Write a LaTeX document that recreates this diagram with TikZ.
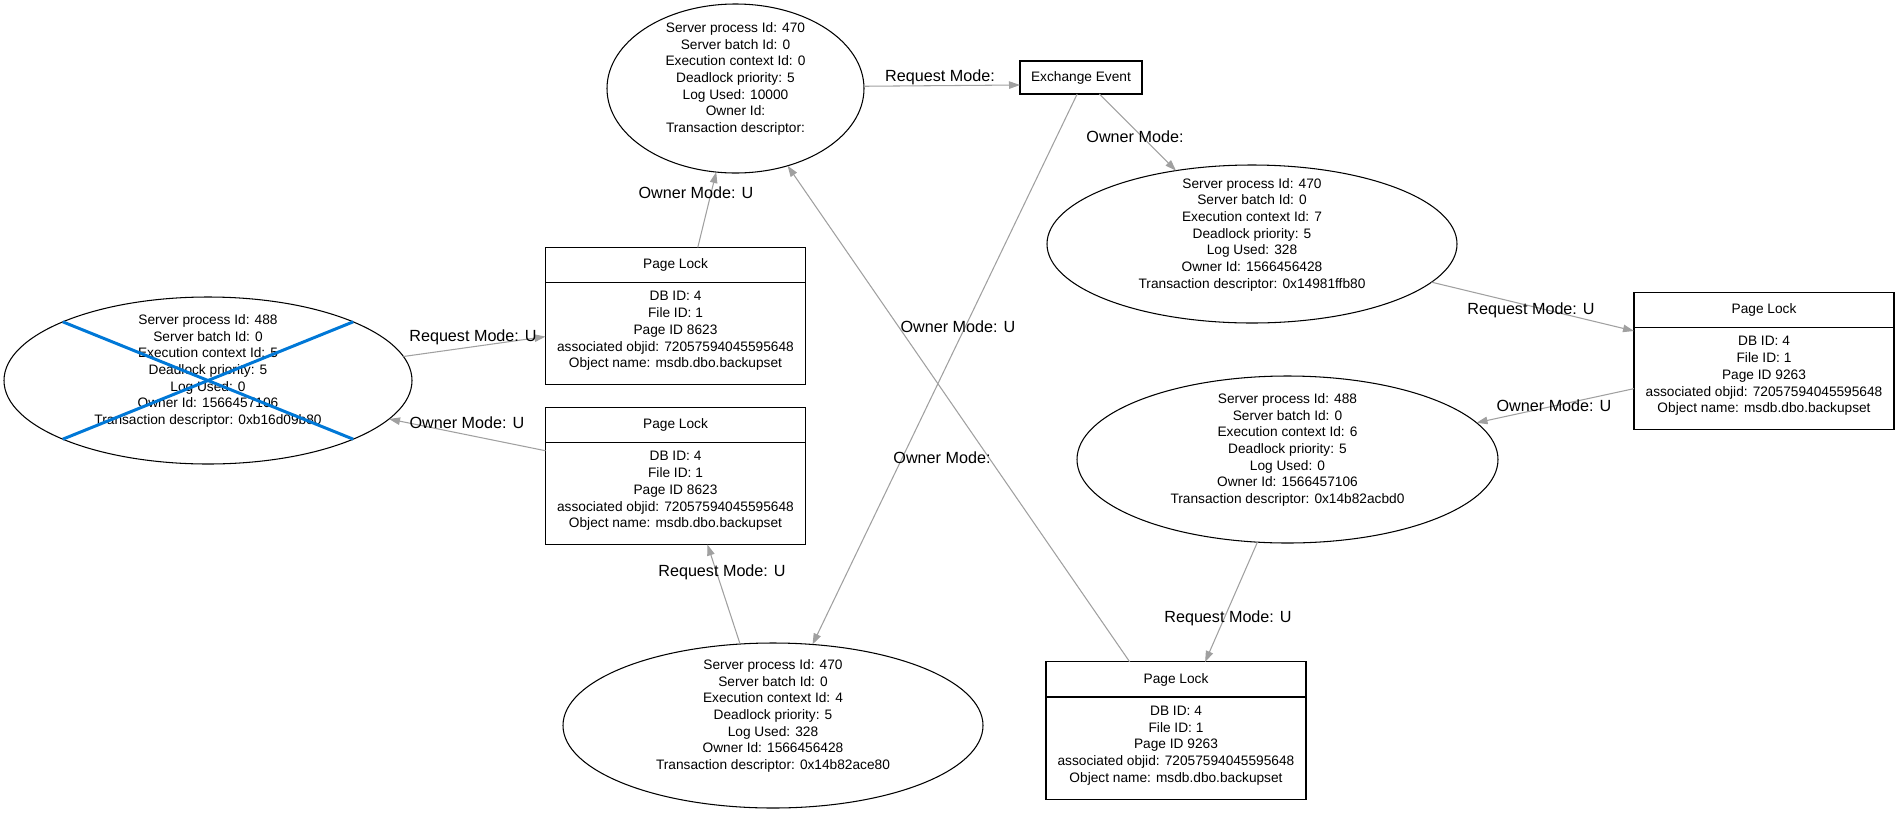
\documentclass[tikz,border=0pt]{standalone}
\usepackage{fontspec}
\setmainfont{Liberation Sans}
\usetikzlibrary{shapes.geometric,shapes.multipart,arrows.meta}

\definecolor{edgegray}{RGB}{160,160,160}
\definecolor{victimblue}{RGB}{0,120,215}
\newcommand{\procfont}{\fontsize{7.8pt}{9.49pt}\selectfont}
\newcommand{\modefont}{\fontsize{9.2pt}{11pt}\selectfont}
\newcommand{\lockhead}{\parbox[c][0.68cm][c]{5.2cm}{\centering Page Lock}}
\newcommand{\lockbody}[1]{\parbox[c][2.02cm][c]{5.2cm}{\centering DB ID: 4\\ File ID: 1\\ Page ID #1\\ associated objid: 72057594045595648\\ Object name: msdb.dbo.backupset\\[0.1cm]}}

\begin{document}
\begin{tikzpicture}[
  process/.style={draw, ellipse, line width=0.6pt, inner xsep=0pt, inner ysep=-0.3cm, outer sep=0pt, align=center, font=\procfont},
  lockbox/.style={draw, rectangle split, rectangle split parts=2, line width=0.6pt, inner sep=0pt, outer sep=0pt, font=\procfont},
  eventbox/.style={draw, line width=0.6pt, minimum width=2.44cm, minimum height=0.66cm, inner sep=0pt, outer sep=0pt, font=\procfont},
  wait/.style={draw=edgegray, line width=0.6pt, -{Triangle[length=0.22cm, width=0.15cm]}},
  mode/.style={font=\modefont, inner sep=0pt},
  victim/.style={draw=victimblue, line width=1.7pt}
]
  \useasboundingbox (0,0) rectangle (37.98,-16.36);

  % Processes
  \node[process, minimum width=5.14cm, minimum height=3.38cm] (proc0) at (14.71,-1.77) {Server process Id: 470\\ Server batch Id: 0\\ Execution context Id: 0\\ Deadlock priority: 5\\ Log Used: 10000\\ Owner Id:\\ Transaction descriptor:\\ \strut};
  \node[process, minimum width=8.20cm, minimum height=3.16cm] (proc7) at (25.04,-4.88) {Server process Id: 470\\ Server batch Id: 0\\ Execution context Id: 7\\ Deadlock priority: 5\\ Log Used: 328\\ Owner Id: 1566456428\\ Transaction descriptor: 0x14981ffb80\\ \strut};
  \node[process, minimum width=8.16cm, minimum height=3.34cm] (proc5) at (4.16,-7.61) {Server process Id: 488\\ Server batch Id: 0\\ Execution context Id: 5\\ Deadlock priority: 5\\ Log Used: 0\\ Owner Id: 1566457106\\ Transaction descriptor: 0xb16d09b80\\ \strut};
  \node[process, minimum width=8.42cm, minimum height=3.34cm] (proc6) at (25.75,-9.19) {Server process Id: 488\\ Server batch Id: 0\\ Execution context Id: 6\\ Deadlock priority: 5\\ Log Used: 0\\ Owner Id: 1566457106\\ Transaction descriptor: 0x14b82acbd0\\ \strut};
  \node[process, minimum width=8.40cm, minimum height=3.30cm] (proc4) at (15.46,-14.51) {Server process Id: 470\\ Server batch Id: 0\\ Execution context Id: 4\\ Deadlock priority: 5\\ Log Used: 328\\ Owner Id: 1566456428\\ Transaction descriptor: 0x14b82ace80\\ \strut};

  % Resources
  \node[eventbox] (xchg) at (21.62,-1.55) {Exchange Event};
  \node[lockbox] (pg8623a) at (13.51,-6.32) {\lockhead \nodepart{two}\lockbody{8623}};
  \node[lockbox] (pg8623b) at (13.51,-9.52) {\lockhead \nodepart{two}\lockbody{8623}};
  \node[lockbox] (pg9263a) at (35.28,-7.22) {\lockhead \nodepart{two}\lockbody{9263}};
  \node[lockbox] (pg9263b) at (23.52,-14.61) {\lockhead \nodepart{two}\lockbody{9263}};

  % Victim
  \draw[victim] (proc5.158) -- (proc5.-22);
  \draw[victim] (proc5.22) -- (proc5.202);

  % Edges
  \draw[wait] (proc0.1) -- (xchg.187);
  \draw[wait] (xchg.-42) -- (proc7.136);
  \draw[wait] (xchg.257) -- (proc4.64);
  \draw[wait] (pg8623a.72) -- (proc0.257);
  \draw[wait] (proc5.7) -- (pg8623a.189);
  \draw[wait] (pg8623b.169) -- (proc5.-12);
  \draw[wait] (proc4.112) -- (pg8623b.-65);
  \draw[wait] (pg9263b.124) -- (proc0.-56);
  \draw[wait] (proc7.-12) -- (pg9263a.167);
  \draw[wait] (pg9263a.192) -- (proc6.11);
  \draw[wait] (proc6.250) -- (pg9263b.67);

  % Edge labels
  \node[mode] (lreq0) at (18.80,-1.55) {Request Mode:};
  \node[mode] (lown7) at (22.70,-2.74) {Owner Mode:};
  \node[mode] (lown0) at (13.92,-3.86) {Owner Mode: U};
  \node[mode] (lreq5) at (9.46,-6.74) {Request Mode: U};
  \node[mode] (lown5) at (9.34,-8.46) {Owner Mode: U};
  \node[mode] (lown0b) at (19.16,-6.54) {Owner Mode: U};
  \node[mode] (lown4) at (18.84,-9.16) {Owner Mode:};
  \node[mode] (lreq4) at (14.44,-11.44) {Request Mode: U};
  \node[mode] (lreq7) at (30.62,-6.20) {Request Mode: U};
  \node[mode] (lown6) at (31.08,-8.12) {Owner Mode: U};
  \node[mode] (lreq6) at (24.56,-12.36) {Request Mode: U};
\end{tikzpicture}
\end{document}
